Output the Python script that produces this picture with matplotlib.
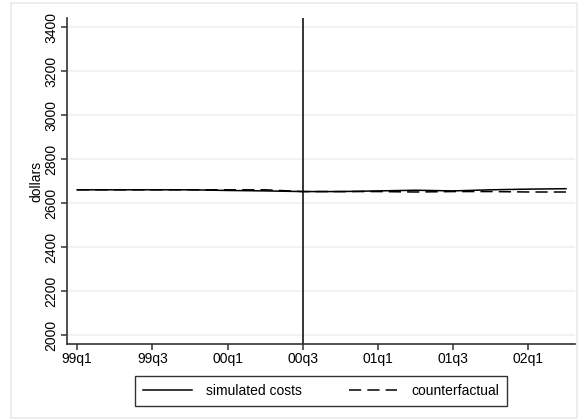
import matplotlib
matplotlib.use("Agg")
import matplotlib.pyplot as plt
from matplotlib.patches import Rectangle

plt.rcParams['font.family'] = ['Liberation Sans', 'DejaVu Sans']

quarters = ["99q1", "99q2", "99q3", "99q4", "00q1", "00q2", "00q3", "00q4",
            "01q1", "01q2", "01q3", "01q4", "02q1", "02q2"]
simulated = [2660, 2660, 2660, 2660, 2657, 2655, 2652, 2652, 2655, 2658, 2655, 2660, 2663, 2665]
counterfactual = [2660, 2660, 2660, 2660, 2660, 2660, 2652, 2652, 2652, 2650, 2652, 2652, 2650, 2650]
yticks = [2000, 2200, 2400, 2600, 2800, 3000, 3200, 3400]
xtick_labels = ["99q1", "99q3", "00q1", "00q3", "01q1", "01q3", "02q1"]
event = "00q3"

W, H = 578, 419
fig = plt.figure(figsize=(W / 100, H / 100), dpi=100)
fig.patch.set_facecolor('white')

# outer graph region frame
fig.patches.append(Rectangle((11 / W, 1 - 418 / H), (577 - 11) / W, (418 - 3) / H,
                             transform=fig.transFigure, fill=False,
                             edgecolor='#e3eced', linewidth=1.2))

ax = fig.add_axes([67 / W, 1 - 344 / H, (575 - 67) / W, (344 - 18) / H])
x = list(range(len(quarters)))

ax.set_ylim(1959, 3441)
ax.set_xlim(-0.27, 13.24)
ax.set_yticks(yticks)
ax.set_yticklabels([str(v) for v in yticks], rotation=90, va='center', fontsize=10)
xt = [quarters.index(q) for q in xtick_labels]
ax.set_xticks(xt)
ax.set_xticklabels(xtick_labels, fontsize=10)

for v in yticks:
    ax.axhline(v, color='#eaf2f3', linewidth=1.2, zorder=0)

ax.axvline(quarters.index(event), color='black', linewidth=1.1, zorder=2)

l1, = ax.plot(x, simulated, color='black', linewidth=1.1, linestyle='-', zorder=3)
l2, = ax.plot(x, counterfactual, color='black', linewidth=1.1, linestyle=(0, (8, 4)), zorder=3)

for s in ['top', 'right']:
    ax.spines[s].set_visible(False)
for s in ['left', 'bottom']:
    ax.spines[s].set_color('#333333')
    ax.spines[s].set_linewidth(1.2)
ax.tick_params(axis='both', direction='out', length=4, width=1.1, color='#333333', pad=2)

ax.set_ylabel('dollars', fontsize=10, labelpad=1)

leg = fig.legend([l1, l2], ['simulated costs', 'counterfactual'], ncol=2,
                 loc='center', bbox_to_anchor=(321 / W, 1 - 391 / H),
                 fontsize=10, frameon=True, fancybox=False, handlelength=3.5,
                 columnspacing=3.4, handletextpad=1.0, borderpad=0.55,
                 borderaxespad=0)
leg.get_frame().set_edgecolor('black')
leg.get_frame().set_linewidth(1.0)

fig.savefig('out.png', dpi=100)
